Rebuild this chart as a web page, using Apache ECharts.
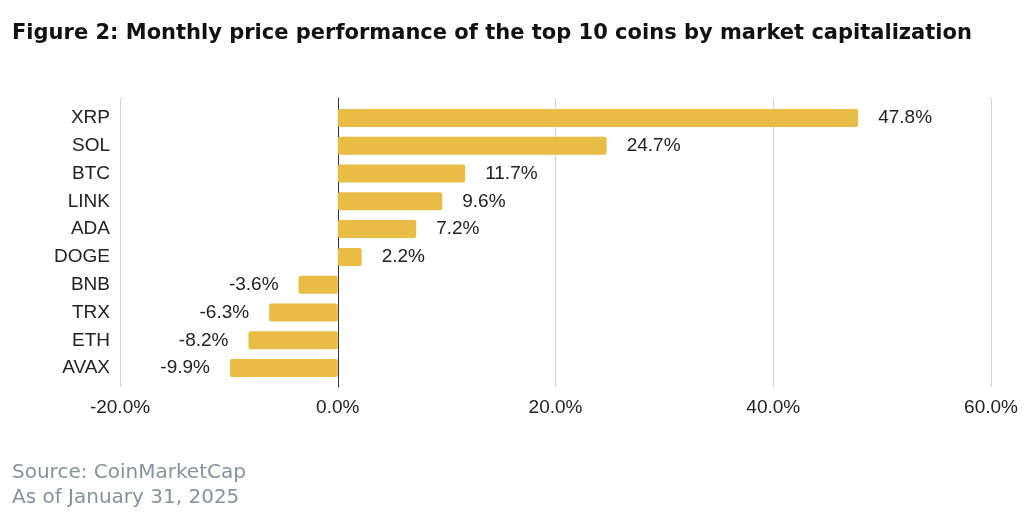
<!DOCTYPE html>
<html>
<head>
<meta charset="utf-8">
<script src="https://cdn.jsdelivr.net/npm/echarts@6/dist/echarts.min.js"></script>
<style>
  html, body { margin: 0; padding: 0; background: #fff; }
  #chart { width: 1024px; height: 525px; }
</style>
</head>
<body>
<div id="chart"></div>
<script>
// data
var coins = ['XRP', 'SOL', 'BTC', 'LINK', 'ADA', 'DOGE', 'BNB', 'TRX', 'ETH', 'AVAX'];
var change = [47.8, 24.7, 11.7, 9.6, 7.2, 2.2, -3.6, -6.3, -8.2, -9.9];
var xTicks = [-20, 0, 20, 40, 60];

var barColor = '#E9BD45';
var labelFont = 'Liberation Sans';
var chart = echarts.init(document.getElementById('chart'));

var barData = change.map(function (v) {
  return {
    value: v,
    label: { position: v < 0 ? 'left' : 'right' }
  };
});

var option = {
  animation: false,
  title: [
    {
      text: 'Figure 2: Monthly price performance of the top 10 coins by market capitalization',
      left: 12, top: 23, padding: 0,
      textStyle: { fontFamily: 'DejaVu Sans', fontWeight: 'bold', fontSize: 21, color: '#111' }
    },
    {
      text: 'Source: CoinMarketCap\nAs of January 31, 2025',
      left: 12, top: 460, padding: 0,
      textStyle: { fontFamily: 'DejaVu Sans', fontWeight: 'normal', fontSize: 20, lineHeight: 25, color: '#8a909c' }
    }
  ],
  grid: [
    { left: 120, right: 33, top: 104, height: 278 },
    { left: 120, right: 33, top: 98, height: 289 }
  ],
  xAxis: [
    {
      gridIndex: 0, type: 'value', min: xTicks[0], max: xTicks[xTicks.length - 1], interval: 20,
      axisLine: { show: false }, axisTick: { show: false }, axisLabel: { show: false },
      splitLine: { show: false }
    },
    {
      gridIndex: 1, type: 'value', min: xTicks[0], max: xTicks[xTicks.length - 1], interval: 20,
      axisLine: { show: false }, axisTick: { show: false },
      axisLabel: {
        margin: 11, fontFamily: labelFont, fontSize: 19, color: '#222',
        formatter: function (v) { return v.toFixed(1) + '%'; }
      },
      splitLine: { show: true, lineStyle: { color: '#d4d4d4', width: 1 } }
    }
  ],
  yAxis: [
    {
      gridIndex: 0, type: 'category', data: coins, inverse: true,
      axisLine: { show: false }, axisTick: { show: false },
      axisLabel: { margin: 10, fontFamily: labelFont, fontSize: 19, color: '#222' }
    },
    {
      // second grid only carries the taller grid lines and the zero line
      gridIndex: 1, type: 'category', data: coins, inverse: true,
      axisLine: { show: true, onZero: true, lineStyle: { color: '#333', width: 1 } },
      axisTick: { show: false }, axisLabel: { show: false }
    }
  ],
  series: [
    {
      type: 'bar',
      xAxisIndex: 0, yAxisIndex: 0,
      data: barData,
      barWidth: 18,
      itemStyle: { color: barColor, borderRadius: 2 },
      label: {
        show: true, distance: 20,
        fontFamily: labelFont, fontSize: 19, color: '#222',
        formatter: function (p) { return p.value.toFixed(1) + '%'; }
      },
      z: 1
    }
  ]
};
chart.setOption(option);
</script>
</body>
</html>
